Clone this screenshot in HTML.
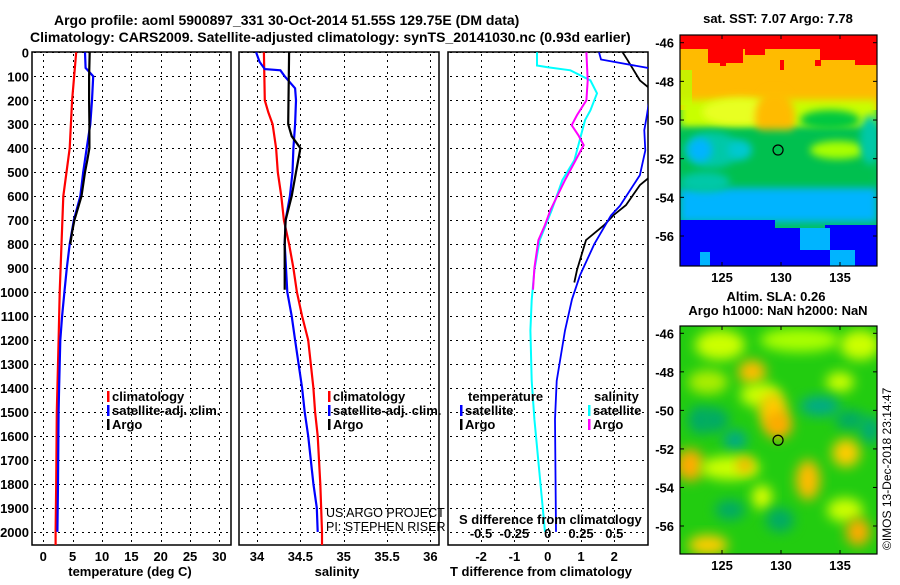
<!DOCTYPE html>
<html><head><meta charset="utf-8"><style>
html,body{margin:0;padding:0;background:#fff}
svg text{font-family:"Liberation Sans",sans-serif}
.b{font-weight:bold;font-size:14px}
.t{font-weight:bold;font-size:13px}
</style></head><body>
<svg id="c" width="900" height="580" viewBox="0 0 900 580">
<defs>
<filter id="bl4" x="-50%" y="-50%" width="200%" height="200%"><feGaussianBlur stdDeviation="4"/></filter>
<filter id="bl6" x="-50%" y="-50%" width="200%" height="200%"><feGaussianBlur stdDeviation="6"/></filter>
<clipPath id="cp1"><rect x="32" y="52" width="199" height="493"/></clipPath>
<clipPath id="cp2"><rect x="239" y="52" width="200" height="493"/></clipPath>
<clipPath id="cp3"><rect x="448" y="52" width="200" height="493"/></clipPath>
<clipPath id="cm1"><rect x="680" y="35" width="197" height="231"/></clipPath>
<clipPath id="cm2"><rect x="680" y="326" width="197" height="228"/></clipPath>
</defs>
<rect width="900" height="580" fill="#fff"/>
<text x="54" y="25" class="b">Argo profile: aoml 5900897_331 30-Oct-2014 51.55S 129.75E (DM data)</text>
<text x="30" y="42" class="b">Climatology: CARS2009. Satellite-adjusted climatology: synTS_20141030.nc (0.93d earlier)</text>
<g id="maps"></g>
<g id="panels"></g>
<text transform="translate(891,550) rotate(-90)" font-size="12">©IMOS 13-Dec-2018 23:14:47</text>
</svg>
<script>
// ---- data ----
const depthTicks = [0,100,200,300,400,500,600,700,800,900,1000,1100,1200,1300,1400,1500,1600,1700,1800,1900,2000];
const tempTicks = [0,5,10,15,20,25,30];
const salTicks = [34,34.5,35,35.5,36];
const tdiffTicks = [-2,-1,0,1,2];
const sdiffTicks = [-0.5,-0.25,0,0.25,0.5];
const sdiffTickLabels = ["-0.5","-0.25","0","0.25","0.5"];

const tClimDepth = [0,200,400,600,800,1000,1200,1500,1800,2000,2055];
const tClimVal   = [5.6,4.9,4.5,3.4,3.1,2.8,2.6,2.3,2.2,2.1,2.1];
const tSatDepth = [0,65,100,200,300,400,500,600,700,800,900,1000,1100,1200,1400,1500,1800,2000];
const tSatVal   = [7.1,7.2,8.5,8.3,8.0,7.4,6.8,6.3,5.2,4.5,4.0,3.6,3.2,2.9,2.7,2.6,2.5,2.4];
const tArgoDepth = [0,100,200,300,400,450,500,600,700,750,800];
const tArgoVal   = [7.9,7.8,7.8,7.85,7.85,7.5,7.1,6.5,5.3,4.9,4.6];

const sClimDepth = [0,200,250,300,400,500,600,700,800,900,1000,1100,1200,1400,1500,1600,1800,2000,2055];
const sClimVal   = [34.08,34.09,34.13,34.18,34.22,34.24,34.28,34.31,34.37,34.42,34.46,34.52,34.59,34.65,34.67,34.70,34.73,34.75,34.75];
const sSatDepth = [0,40,70,75,100,150,200,300,400,500,600,700,800,1000,1100,1200,1400,1500,1600,1700,1800,1900,2000];
const sSatVal   = [33.99,34.03,34.09,34.27,34.32,34.44,34.45,34.44,34.42,34.41,34.38,34.33,34.32,34.35,34.40,34.44,34.52,34.55,34.59,34.62,34.65,34.69,34.70];
const sArgoDepth = [0,300,350,400,500,600,700,800,900,990];
const sArgoVal   = [34.37,34.36,34.40,34.50,34.45,34.40,34.33,34.32,34.32,34.32];

const dtSatDepth = [0,30,70,270,325,410,512,640,680,800,930,1030,1160,1370,1530,2000];
const dtSatVal   = [1.54,1.6,3.2,2.97,2.9,2.93,2.77,2.17,1.9,1.4,0.97,0.73,0.52,0.27,0.22,0.25];
const dtArgoDepth = [0,33,117,167,504,554,637,679,720,783,908,960];
const dtArgoVal   = [2.25,2.4,2.77,3.2,3.2,2.77,2.35,1.98,1.7,1.15,0.88,0.8];
const dsSatDepth = [0,55,62,75,117,171,242,283,367,450,533,658,783,908,1033,1160,1370,1530,2000];
const dsSatVal   = [-0.08,-0.08,0.0,0.17,0.32,0.37,0.32,0.28,0.24,0.2,0.11,0.03,-0.06,-0.1,-0.12,-0.13,-0.12,-0.1,-0.02];
const dsArgoDepth = [0,117,200,262,304,346,387,408,471,533,658,720,783,900,990];
const dsArgoVal   = [0.29,0.30,0.29,0.22,0.18,0.23,0.27,0.25,0.19,0.13,0.02,-0.02,-0.07,-0.1,-0.11];

const latTicks = [-46,-48,-50,-52,-54,-56];
const lonTicks = [125,130,135];
const argoLon = 129.75, argoLat = -51.55;

// ---- helpers ----
const NS = "http://www.w3.org/2000/svg";
function mk(tag, attrs, parent){const e=document.createElementNS(NS,tag);for(const k in attrs)e.setAttribute(k,attrs[k]);parent.appendChild(e);return e;}
const yD = d => 52.3 + d*0.2398;
const xT = v => 43.3 + v*5.87;
const xS = v => 257 + (v-34)*86.7;
const xDT = v => 547.7 + v*33.3;
const xDS = v => 547.7 + v*133.3;
const P = document.getElementById('panels');
const M = document.getElementById('maps');
const px = v => Math.round(v)+0.5;

function panel(x0, x1, name, xTicksVals, xfun, xlabels, xtitle, xtitleX){
  const g = mk('g',{}, P);
  
  
  depthTicks.forEach(d=>{
    const l = mk('line',{x1:x0+2,x2:x1,y1:px(yD(d)),y2:px(yD(d)),stroke:'#000','stroke-width':1,'stroke-dasharray':'2,4','shape-rendering':'crispEdges'},g);
    
    
  });
  xTicksVals.forEach((v,i)=>{
    const x = xfun(v);
    const l = mk('line',{x1:px(x),x2:px(x),y1:54,y2:545,stroke:'#000','stroke-width':1,'stroke-dasharray':'2,4','shape-rendering':'crispEdges'},g);
    
    
    const t = mk('text',{x:x,y:561,'text-anchor':'middle',class:'t'},g);
    t.textContent = xlabels[i];
    
    
  });
  const r = mk('rect',{x:x0,y:52,width:x1-x0,height:493,fill:'none',stroke:'#000','stroke-width':1.5},g);
  
  
  const tt = mk('text',{x:xtitleX,y:576,'text-anchor':'middle',class:'t'},g);
  tt.textContent = xtitle;
  
  
  return g;
}
function line(g, depths, vals, xfun, color, clip, name, w){
  const pts = depths.map((d,i)=>xfun(vals[i]).toFixed(1)+','+yD(d).toFixed(1)).join(' ');
  const pl = mk('polyline',{points:pts,fill:'none',stroke:color,'stroke-width':w||2.2,'clip-path':'url(#'+clip+')'},g);
  
  
}
function legend(g, x, y, items){
  items.forEach((it,i)=>{
    const yy = y + i*14;
    const m = mk('rect',{x:x,y:yy-10,width:2.5,height:11,fill:it[1]},g);
    
    
    const t = mk('text',{x:x+5,y:yy,class:'t'},g);
    t.textContent = it[0];
    
    
  });
}

depthTicks.forEach(d=>{
  const t = mk('text',{x:29,y:yD(d)+5,'text-anchor':'end',class:'t'},P);
  t.textContent = d;
  
  
});

const g1 = panel(32,231,'temperature-panel',tempTicks,xT,tempTicks.map(String),'temperature (deg C)',130);
line(g1,tClimDepth,tClimVal,xT,'#f00','cp1','temp-climatology-line');
line(g1,tSatDepth,tSatVal,xT,'#00f','cp1','temp-satellite-line');
line(g1,tArgoDepth,tArgoVal,xT,'#000','cp1','temp-argo-line');
legend(g1,107,401,[['climatology','#f00'],['satellite-adj. clim.','#00f'],['Argo','#000']]);

const g2 = panel(239,439,'salinity-panel',salTicks,xS,salTicks.map(String),'salinity',337);
line(g2,sClimDepth,sClimVal,xS,'#f00','cp2','sal-climatology-line');
line(g2,sSatDepth,sSatVal,xS,'#00f','cp2','sal-satellite-line');
line(g2,sArgoDepth,sArgoVal,xS,'#000','cp2','sal-argo-line');
legend(g2,328,401,[['climatology','#f00'],['satellite-adj. clim.','#00f'],['Argo','#000']]);
[['US ARGO PROJECT',517],['PI: STEPHEN RISER',531]].forEach(a=>{
  const t = mk('text',{x:326,y:a[1],'font-size':12.5,fill:'#000'},g2);
  t.textContent = a[0];
  
  
});

const g3 = panel(448,648,'difference-panel',tdiffTicks,xDT,tdiffTicks.map(String),'T difference from climatology',541);
line(g3,dsSatDepth,dsSatVal,xDS,'#0ff','cp3','sdiff-satellite-line',2);
line(g3,dsArgoDepth,dsArgoVal,xDS,'#f0f','cp3','sdiff-argo-line',2);
line(g3,dtArgoDepth,dtArgoVal,xDT,'#000','cp3','tdiff-argo-line',1.8);
line(g3,dtSatDepth,dtSatVal,xDT,'#00f','cp3','tdiff-satellite-line',1.8);
sdiffTicks.forEach((v,i)=>{
  const t = mk('text',{x:xDS(v),y:538,'text-anchor':'middle',class:'t'},g3);
  t.textContent = sdiffTickLabels[i];
  
  
});
const st = mk('text',{x:459,y:524,class:'t'},g3);
st.textContent = 'S difference from climatology';


const lt1 = mk('text',{x:468,y:401,class:'t'},g3);
lt1.textContent = 'temperature';


const lt2 = mk('text',{x:594,y:401,class:'t'},g3);
lt2.textContent = 'salinity';


legend(g3,460,415,[['satellite','#00f'],['Argo','#000']]);
legend(g3,588,415,[['satellite','#0ff'],['Argo','#f0f']]);

// ---- maps ----
const xL = lon => 722 + (lon-125)*11.8;
function mapFrame(name, top, bottom, lat46y, pxPerDeg, clip, shapes, titles){
  const g = mk('g',{},M);
  
  
  const img = mk('g',{'clip-path':'url(#'+clip+')'},g);
  shapes.forEach(s=>{
    let e;
    const a = s[0]==='r' ? {x:s[1],y:s[2],width:s[3],height:s[4],fill:s[5]} : {cx:s[1],cy:s[2],rx:s[3],ry:s[4],fill:s[5]};
    if(s[6]) a.filter = 'url(#'+s[6]+')';
    e = mk(s[0]==='r'?'rect':'ellipse', a, img);
    
    
  });
  const yLat = la => lat46y + (-46-la)*pxPerDeg;
  latTicks.forEach(la=>{
    const y = yLat(la);
    mk('line',{x1:680,x2:684,y1:y,y2:y,stroke:'#000'},g);
    mk('line',{x1:873,x2:877,y1:y,y2:y,stroke:'#000'},g);
    const t = mk('text',{x:674,y:y+5,'text-anchor':'end',class:'t'},g);
    t.textContent = la;
    
    
  });
  lonTicks.forEach(lo=>{
    const x = xL(lo);
    mk('line',{x1:x,x2:x,y1:top,y2:top+4,stroke:'#000'},g);
    mk('line',{x1:x,x2:x,y1:bottom-4,y2:bottom,stroke:'#000'},g);
    const t = mk('text',{x:x,y:bottom+16,'text-anchor':'middle',class:'t'},g);
    t.textContent = lo;
    
    
  });
  const fr = mk('rect',{x:680,y:top,width:197,height:bottom-top,fill:'none',stroke:'#000','stroke-width':1.2},g);
  
  
  const c = mk('circle',{cx:xL(argoLon),cy:yLat(argoLat),r:5,fill:'none',stroke:'#000','stroke-width':1.2},g);
  
  
  titles.forEach(tt=>{
    const t = mk('text',{x:tt[1],y:tt[2],'text-anchor':'middle',class:'t'},g);
    t.textContent = tt[0];
    
    
  });
}
const sstShapes = [
 ['r',680,35,197,231,'#00c060'],
 ['r',680,35,197,75,'#ffbb00'],
 ['r',680,35,197,14,'#ff0000'],
 ['r',708,45,35,18,'#ff0000'],['r',820,45,40,15,'#ff0000'],['r',745,45,20,10,'#ff0000'],['r',855,45,22,20,'#ff0000'],
 ['r',720,60,6,6,'#ff0000'],['r',780,60,4,10,'#ff0000'],['r',815,60,6,6,'#ff0000'],
 ['r',680,70,12,35,'#c8f000'],
 ['r',680,100,197,28,'#c8ff00','bl4'],
 ['e',740,112,38,14,'#e8ff20','bl4'],
 ['e',775,118,20,28,'#ffbb00','bl4'],
 ['e',782,145,12,14,'#ffd000','bl4'],
 ['r',680,130,197,60,'#00c050','bl4'],
 ['e',830,120,30,10,'#00c840','bl4'],
 ['e',712,150,28,18,'#00c8a8','bl4'],
 ['e',700,150,12,12,'#00b4ff','bl4'],
 ['e',740,150,12,10,'#00c8d0','bl4'],
 ['e',838,150,28,9,'#a8ff00','bl4'],
 ['e',870,140,10,25,'#00c8a8','bl4'],
 ['r',680,188,197,34,'#00b4ff','bl4'],
 ['e',705,182,25,10,'#00c8a8','bl4'],
 ['r',680,220,95,46,'#0000ff'],
 ['r',760,228,70,38,'#0000ff'],
 ['r',825,225,52,41,'#0000ff'],
 ['r',800,228,30,22,'#00b4ff'],
 ['r',700,252,10,14,'#00b4ff'],
 ['r',830,250,25,16,'#00b4ff']
];
mapFrame('sst-map',35,266,42.7,19.33,'cm1',sstShapes,[['sat. SST: 7.07 Argo: 7.78',778,23]]);
const slaShapes = [
 ['r',680,326,197,228,'#22cc10'],
 ['e',720,345,25,15,'#ccff00','bl6'],['e',800,340,40,12,'#aaff00','bl6'],['e',860,345,20,15,'#ccff00','bl6'],
 ['e',708,382,20,12,'#aaee00','bl6'],['e',752,372,14,12,'#ffbb00','bl6'],['e',840,382,14,10,'#ccff00','bl6'],
 ['e',760,395,20,12,'#ccff00','bl6'],['e',773,410,14,18,'#ffcc00','bl6'],['e',778,425,14,14,'#ffaa00','bl6'],
 ['e',735,440,12,10,'#00aa88','bl6'],['e',715,420,14,12,'#00aa66','bl6'],['e',850,420,15,10,'#00aa66','bl6'],
 ['e',820,406,20,10,'#00aa88','bl6'],['e',870,430,10,14,'#00aa77','bl6'],['e',700,420,12,14,'#00aa66','bl6'],
 ['e',690,465,14,16,'#ffaa00','bl6'],['e',730,468,30,12,'#ccff00','bl6'],['e',745,465,8,8,'#ffaa00','bl6'],
 ['e',808,480,12,20,'#ffbb00','bl6'],['e',846,453,14,14,'#ffcc00','bl6'],
 ['e',762,497,10,12,'#ddff00','bl6'],['e',845,510,18,12,'#ccff00','bl6'],['e',858,532,12,14,'#ffaa00','bl6'],
 ['e',708,545,20,10,'#ffcc00','bl6'],['e',780,520,14,12,'#00aa66','bl6'],['e',730,510,15,10,'#00aa66','bl6']
];
mapFrame('sla-map',326,554,333.3,19.27,'cm2',slaShapes,[['Altim. SLA: 0.26',776,301],['Argo h1000: NaN h2000: NaN',778,315]]);
</script>
</body></html>
